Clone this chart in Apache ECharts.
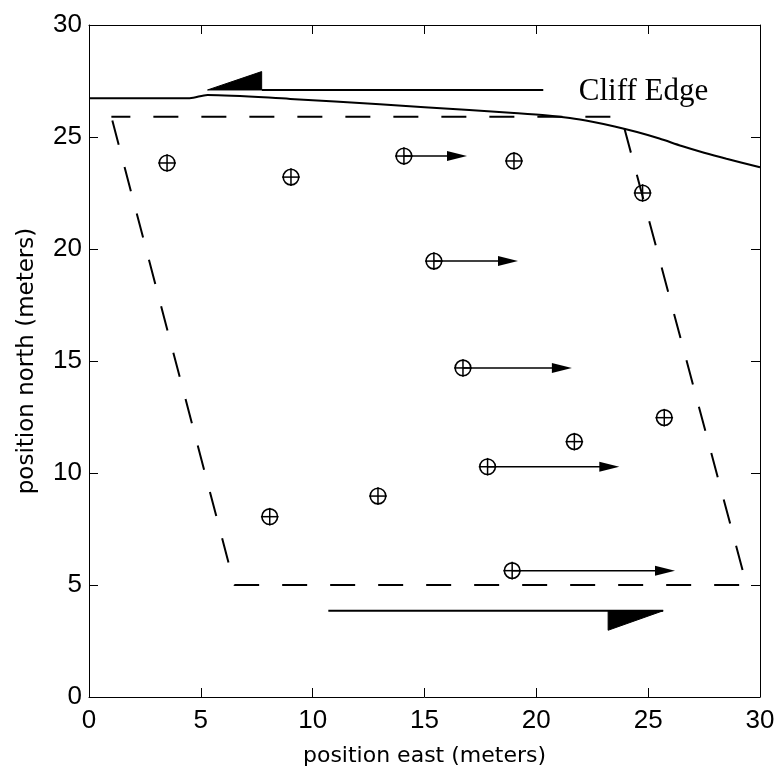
<!DOCTYPE html>
<html>
<head>
<meta charset="utf-8">
<script src="https://cdn.jsdelivr.net/npm/echarts@6/dist/echarts.min.js"></script>
<style>
html,body{margin:0;padding:0;background:#fff;}
#chart{width:775px;height:767px;}
</style>
</head>
<body>
<div id="chart"></div>
<script>
// Axis ticks
const xTicks = [0, 5, 10, 15, 20, 25, 30];
const yTicks = [0, 5, 10, 15, 20, 25, 30];

// Measured positions (circle-plus markers)
const markerX = [3.49, 9.03, 14.08, 19.0, 24.75, 15.42, 16.72, 17.82, 21.7, 25.72, 18.92, 8.08, 12.92];
const markerY = [23.84, 23.21, 24.15, 23.93, 22.5, 19.46, 14.69, 10.28, 11.4, 12.47, 5.64, 8.05, 8.97];

// Velocity arrows (start at marker, end at tip)
const arrowFromX = [14.08, 15.42, 16.72, 17.82, 18.92];
const arrowFromY = [24.15, 19.46, 14.69, 10.28, 5.64];
const arrowToX   = [16.9, 19.18, 21.59, 23.71, 26.2];

// Cliff edge line
const cliffX = [0, 4.5, 5.3, 9.0, 13.0, 17.0, 19.0, 20.5, 21.5, 22.5, 23.5, 24.5, 25.5, 26.5, 27.5, 28.5, 30.0];
const cliffY = [26.73, 26.73, 26.88, 26.7, 26.46, 26.2, 26.07, 25.96, 25.85, 25.68, 25.47, 25.22, 24.93, 24.6, 24.3, 24.03, 23.65];

// Dashed boundary polygon
const boundaryX = [1.0, 23.8, 29.4, 6.5, 1.0];
const boundaryY = [25.9, 25.9, 5.0, 5.0, 25.9];

// Big direction arrows: shaft and half-arrowhead
const topShaftX = [7.72, 20.31];
const topShaftY = [27.1, 27.1];
const topHeadX = [5.3, 7.72, 7.72];
const topHeadY = [27.1, 27.92, 27.1];
const botShaftX = [10.7, 25.67];
const botShaftY = [3.85, 3.85];
const botHeadX = [25.67, 23.21, 23.21];
const botHeadY = [3.85, 3.85, 2.98];

// Annotation
const cliffLabel = 'Cliff Edge';
const cliffLabelX = 21.9;
const cliffLabelY = 27.0;

const zip = (a, b) => a.map((v, i) => [v, b[i]]);

const tickFont = "'Liberation Sans', Arial, sans-serif";
const titleFont = "'DejaVu Sans', sans-serif";

const chart = echarts.init(document.getElementById('chart'), null, {renderer: 'canvas'});

const baseX = {
  type: 'value', min: 0, max: 30, interval: 5,
  axisLine: {show: true, onZero: false, lineStyle: {color: '#000', width: 1}},
  axisTick: {show: true, inside: true, length: 9, lineStyle: {color: '#000', width: 1}},
  splitLine: {show: false}
};

const option = {
  animation: false,
  backgroundColor: '#fff',
  grid: {left: 89, top: 25, right: 15, bottom: 70, containLabel: false, outerBoundsMode: 'none'},
  xAxis: [
    Object.assign({}, baseX, {
      position: 'bottom',
      axisLabel: {show: true, margin: 11, color: '#000', fontFamily: tickFont, fontSize: 26,
        formatter: v => xTicks.includes(v) ? String(v) : ''},
      name: 'position east (meters)', nameLocation: 'middle', nameGap: 48,
      nameTextStyle: {color: '#000', fontFamily: titleFont, fontSize: 22}
    }),
    Object.assign({}, baseX, {position: 'top', axisLabel: {show: false}})
  ],
  yAxis: [
    Object.assign({}, baseX, {
      position: 'left',
      axisLabel: {show: true, margin: 7, color: '#000', fontFamily: tickFont, fontSize: 26,
        formatter: v => yTicks.includes(v) ? String(v) : ''},
      name: 'position north (meters)', nameLocation: 'middle', nameGap: 50,
      nameTextStyle: {color: '#000', fontFamily: titleFont, fontSize: 23}
    }),
    Object.assign({}, baseX, {position: 'right', axisLabel: {show: false}})
  ],
  series: [
    {
      type: 'line', xAxisIndex: 0, yAxisIndex: 0,
      data: zip(cliffX, cliffY), showSymbol: false, smooth: 0.3,
      lineStyle: {color: '#000', width: 2}, z: 3
    },
    {
      type: 'line', xAxisIndex: 0, yAxisIndex: 0,
      data: zip(boundaryX, boundaryY), showSymbol: false,
      lineStyle: {color: '#000', width: 2, type: [25, 23], dashOffset: 6}, z: 3
    },
    {
      type: 'line', xAxisIndex: 0, yAxisIndex: 0,
      data: zip(topShaftX, topShaftY), showSymbol: false,
      lineStyle: {color: '#000', width: 2}, z: 3
    },
    {
      type: 'line', xAxisIndex: 0, yAxisIndex: 0,
      data: zip(botShaftX, botShaftY), showSymbol: false,
      lineStyle: {color: '#000', width: 2}, z: 3
    },
    {
      // half arrowheads
      type: 'custom', xAxisIndex: 0, yAxisIndex: 0,
      data: [[0], [1]],
      renderItem: function (params, api) {
        const idx = api.value(0);
        const hx = idx === 0 ? topHeadX : botHeadX;
        const hy = idx === 0 ? topHeadY : botHeadY;
        const pts = hx.map((x, i) => api.coord([x, hy[i]]));
        return {type: 'polygon', shape: {points: pts}, style: {fill: '#000', stroke: '#000', lineWidth: 1}};
      },
      z: 4
    },
    {
      // small velocity arrows
      type: 'custom', xAxisIndex: 0, yAxisIndex: 0,
      data: arrowFromX.map((x, i) => [x, arrowFromY[i], arrowToX[i]]),
      renderItem: function (params, api) {
        const p0 = api.coord([api.value(0), api.value(1)]);
        const p1 = api.coord([api.value(2), api.value(1)]);
        const headLen = 20, headHalf = 5;
        return {
          type: 'group',
          children: [
            {type: 'line', shape: {x1: p0[0], y1: p0[1], x2: p1[0] - headLen + 2, y2: p1[1]},
              style: {stroke: '#000', lineWidth: 1.5}},
            {type: 'polygon', shape: {points: [[p1[0], p1[1]], [p1[0] - headLen, p1[1] - headHalf], [p1[0] - headLen, p1[1] + headHalf]]},
              style: {fill: '#000'}}
          ]
        };
      },
      z: 5
    },
    {
      // circle-plus markers
      type: 'custom', xAxisIndex: 0, yAxisIndex: 0,
      data: zip(markerX, markerY),
      renderItem: function (params, api) {
        const p = api.coord([api.value(0), api.value(1)]);
        const r = 7.8;
        return {
          type: 'group',
          children: [
            {type: 'circle', shape: {cx: p[0], cy: p[1], r: r}, style: {fill: 'rgba(0,0,0,0)', stroke: '#000', lineWidth: 1.6}},
            {type: 'line', shape: {x1: p[0] - r - 1, y1: p[1], x2: p[0] + r + 1, y2: p[1]}, style: {stroke: '#000', lineWidth: 1.5}},
            {type: 'line', shape: {x1: p[0], y1: p[1] - r - 1, x2: p[0], y2: p[1] + r + 1}, style: {stroke: '#000', lineWidth: 1.5}}
          ]
        };
      },
      z: 6
    },
    {
      // annotation text
      type: 'custom', xAxisIndex: 0, yAxisIndex: 0,
      data: [[cliffLabelX, cliffLabelY]],
      renderItem: function (params, api) {
        const p = api.coord([api.value(0), api.value(1)]);
        return {
          type: 'text', x: p[0], y: p[1],
          style: {text: cliffLabel, fill: '#000', font: "31px 'Liberation Serif', 'Times New Roman', serif",
            align: 'left', verticalAlign: 'middle'}
        };
      },
      z: 6
    }
  ]
};

chart.setOption(option);
</script>
</body>
</html>
